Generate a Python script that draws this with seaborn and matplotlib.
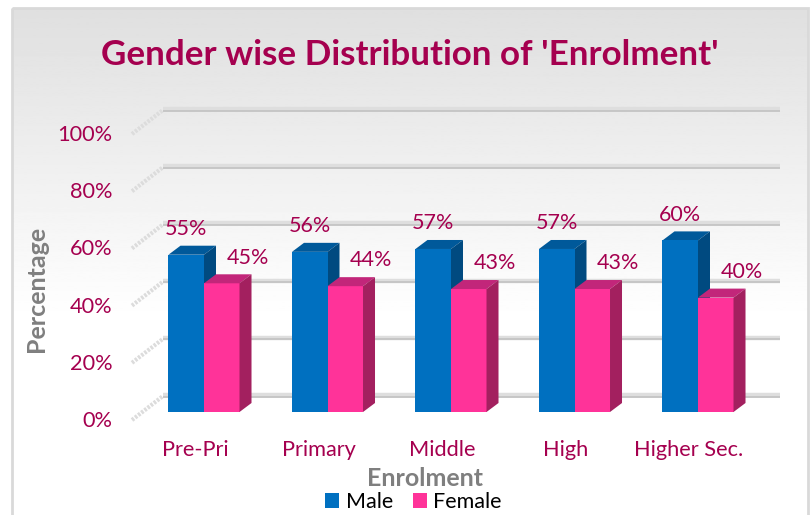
import numpy as np
import pandas as pd
import seaborn as sns
import matplotlib.pyplot as plt
from matplotlib.patches import Polygon, Rectangle
from matplotlib.transforms import ScaledTranslation

categories = ["Pre-Pri", "Primary", "Middle", "High", "Higher Sec."]
male = [55, 56, 57, 57, 60]
female = [45, 44, 43, 43, 40]
y_ticks = [0, 20, 40, 60, 80, 100]

TEXT = "#a5004f"
GREY = "#7f7f7f"

sns.set_theme(style="white")
plt.rcParams["font.family"] = ["Lato", "DejaVu Sans"]

df = pd.DataFrame({
    "cat": categories * 2,
    "pct": male + female,
    "gender": ["Male"] * 5 + ["Female"] * 5,
})

W, H = 810, 515
fig = plt.figure(figsize=(W / 100, H / 100), dpi=100)
fig.patch.set_facecolor("white")

# chart frame with the grey gradient at the top
bg = fig.add_axes([0, 0, 1, 1], zorder=0)
bg.axis("off")
shade = np.linspace(0.875, 1.0, 256).reshape(-1, 1)
bg.imshow(shade, cmap="gray", vmin=0, vmax=1, extent=[12, 808, 320, 8], aspect="auto")
bg.set_xlim(0, W)
bg.set_ylim(H, 0)
bg.add_patch(Rectangle((12, 8), 796, 520, fill=False, ec="#d9d9d9", lw=2))

# axes = front plane of the bars
ax = fig.add_axes([142.25 / W, (H - 412) / H, 617.5 / W, 286 / H], zorder=1)
ax.patch.set_alpha(0)
sns.barplot(data=df, x="cat", y="pct", hue="gender", palette=["#0070c0", "#ff3399"],
            width=0.575, gap=0, saturation=1, linewidth=0, edgecolor="none", ax=ax, zorder=3)
ax.set_xlim(-0.5, 4.5)
ax.set_ylim(0, 100)
sns.despine(ax=ax, left=True, bottom=True)

px_x = 1 / 123.5
px_y = 100 / 286

# walls: back gridlines and the dotted side stubs
x_back0, x_back1 = -41 * px_x, 576 * px_x
x_front = -72 * px_x
for t in y_ticks:
    yb = t + 16 * px_y
    yf = t - 8 * px_y
    ax.plot([x_back0, x_back1], [yb + 1.0 * px_y] * 2, color="#dedede", lw=3.2, clip_on=False,
            solid_capstyle="butt", zorder=1)
    ax.plot([x_back0, x_back1], [yb - 0.5 * px_y] * 2, color="#c4c4c4", lw=1.3, clip_on=False,
            solid_capstyle="butt", zorder=1.1)
    ax.plot([x_front, x_back0], [yf, yb], color="#dcdcdc", lw=3, ls=(0, (0.6, 0.35)), clip_on=False, zorder=1)

# fake 3D depth on each bar
dx, dy = 12 * px_x, 9 * px_y
n = len(categories)
for i, p in enumerate(ax.patches[:2 * n]):
    x0, w, h = p.get_x(), p.get_width(), p.get_height()
    is_male = i < n
    top_c, side_c = ("#00599a", "#004a80") if is_male else ("#c2267a", "#a3205f")
    z = 2.5 if is_male else 3.2
    p.set_zorder(3)
    ax.add_patch(Polygon([(x0, h), (x0 + dx, h + dy), (x0 + w + dx, h + dy), (x0 + w, h)],
                         fc=top_c, ec="none", zorder=z, clip_on=False))
    ax.add_patch(Polygon([(x0 + w, 0), (x0 + w + dx, dy), (x0 + w + dx, h + dy), (x0 + w, h)],
                         fc=side_c, ec="none", zorder=z, clip_on=False))
    off_x = 0 if is_male else 18.5
    ax.annotate(f"{h:.0f}%", (x0 + w / 2, h), xytext=(off_x, 18.5), textcoords="offset points",
                ha="center", va="center", color=TEXT, fontsize=15.5, zorder=5)

# ticks sit on the front edge of the floor, not on the bars
ax.set_yticks(y_ticks)
ax.set_yticklabels([f"{t}%" for t in y_ticks])
ax.set_xticks(range(n))
ax.set_xticklabels(categories)
ax.tick_params(axis="both", length=0, labelsize=15.7, labelcolor=TEXT)
ax.tick_params(axis="y", pad=21.5)
ax.tick_params(axis="x", pad=20.5)
shift_y = ScaledTranslation(0, -7 / 100, fig.dpi_scale_trans)
shift_x = ScaledTranslation(-9 / 100, 0, fig.dpi_scale_trans)
for lab in ax.get_yticklabels():
    lab.set_transform(lab.get_transform() + shift_y)
for lab in ax.get_xticklabels():
    lab.set_transform(lab.get_transform() + shift_x)

ax.set_xlabel("")
ax.set_ylabel("")
fig.text(36 / W, 1 - 289 / H, "Percentage", rotation=90, ha="center", va="center",
         color=GREY, fontsize=18, fontweight="bold")
fig.text(425 / W, 1 - 478 / H, "Enrolment", ha="center", va="center",
         color=GREY, fontsize=18, fontweight="bold")
fig.text(410 / W, 1 - 55 / H, "Gender wise Distribution of 'Enrolment'", ha="center", va="center",
         color=TEXT, fontsize=25.2, fontweight="bold")

handles, labels = ax.get_legend_handles_labels()
ax.legend(handles, labels, loc="center", bbox_to_anchor=(413.5 / W, 1 - 502 / H),
          bbox_transform=fig.transFigure, ncol=2, frameon=False, fontsize=15.5,
          handlelength=0.65, handleheight=0.65, handletextpad=0.3, columnspacing=0.9,
          labelcolor="black", borderpad=0)

fig.savefig("out.png", dpi=100)
